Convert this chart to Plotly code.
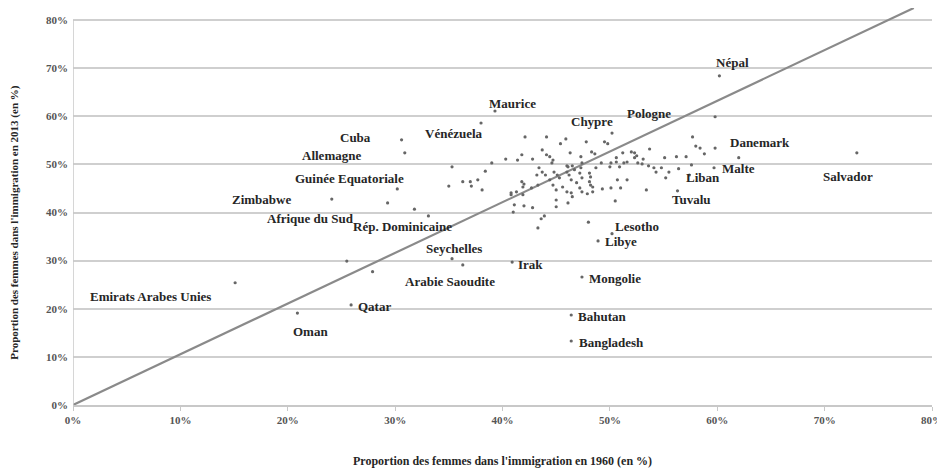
import plotly.graph_objects as go

# ---- Data (proportion of women in immigration, %) ----
# Labelled countries
country_names = ["Népal", "Maurice", "Vénézuela", "Cuba", "Allemagne", "Guinée Equatoriale",
                 "Zimbabwe", "Afrique du Sud", "Rép. Dominicaine", "Seychelles", "Arabie Saoudite",
                 "Irak", "Mongolie", "Bahutan", "Bangladesh", "Lesotho", "Libye", "Tuvalu",
                 "Liban", "Malte", "Danemark", "Salvador", "Pologne", "Chypre",
                 "Emirats Arabes Unies", "Oman", "Qatar"]
country_1960 = [60.2, 39.3, 38.0, 30.6, 30.9, 30.2,
                24.1, 29.3, 33.1, 35.3, 36.3,
                40.9, 47.4, 46.4, 46.4, 50.2, 48.9, 56.3,
                57.4, 59.7, 62.0, 73.0, 50.2, 47.8,
                15.1, 20.9, 25.9]
country_2013 = [68.4, 61.1, 58.6, 55.1, 52.4, 44.9,
                42.8, 42.0, 39.3, 30.4, 29.1,
                29.7, 26.6, 18.7, 13.3, 35.6, 34.1, 44.5,
                47.8, 49.3, 51.4, 52.4, 56.5, 54.7,
                25.4, 19.1, 20.8]

# Unlabelled countries
other_1960 = [42.1, 44.1, 41.8, 41.4, 40.3, 39.0, 35.3, 38.4, 37.7, 37.0, 37.1, 36.3, 35.0, 38.1,
              41.8, 42.0, 41.9, 41.3, 40.8, 59.8, 45.9, 45.4, 49.5, 49.8, 57.7, 58.0, 58.4, 58.8,
              53.7, 52.0, 52.3, 52.5, 52.3, 43.7, 44.1, 44.4, 44.7, 46.3, 48.3, 48.6, 47.3, 51.2,
              50.6, 53.1, 55.1, 56.2, 57.1, 42.8, 44.6, 46.0, 46.1, 46.5, 47.4, 47.3, 49.2, 48.7,
              50.1, 50.0, 50.6, 50.9, 51.3, 51.6, 52.6, 53.0, 53.6, 54.1, 54.3, 54.8, 55.5, 56.4,
              57.6, 43.4, 43.7, 44.0, 43.2, 44.8, 45.1, 45.3, 46.0, 46.2, 46.7, 47.2, 47.4, 48.1,
              48.2, 46.4, 46.9, 47.2, 48.1, 48.2, 48.4, 49.3, 50.1, 50.7, 51.6, 53.4, 55.2, 44.4,
              44.7, 45.0, 45.6, 43.3, 42.7, 46.0, 46.4, 47.4, 47.9, 48.4, 46.5, 45.0, 46.1, 45.0,
              42.8, 50.5, 43.9, 43.6, 43.3, 48.0, 31.8, 40.8, 41.9, 41.1, 42.0, 41.0, 25.5, 27.9,
              59.8, 51.0]
other_2013 = [55.7, 55.7, 52.0, 50.9, 51.1, 50.3, 49.5, 48.6, 46.8, 46.4, 45.5, 46.4, 45.5, 44.7,
              46.4, 45.9, 45.3, 44.3, 44.1, 59.9, 55.3, 54.3, 54.7, 54.3, 55.7, 53.8, 53.4, 52.2,
              53.2, 52.6, 52.4, 51.8, 51.4, 53.0, 52.0, 51.6, 50.9, 52.4, 52.6, 52.2, 51.6, 52.4,
              51.4, 51.1, 51.4, 51.6, 51.6, 51.1, 50.3, 49.7, 49.5, 49.7, 50.3, 49.3, 50.3, 49.3,
              50.3, 49.5, 50.5, 49.5, 50.3, 50.5, 50.3, 50.1, 49.7, 49.3, 48.4, 49.3, 48.4, 49.1,
              49.9, 49.3, 48.4, 47.8, 47.8, 48.4, 47.8, 47.2, 48.4, 47.8, 48.9, 48.2, 47.2, 48.2,
              47.4, 46.8, 46.2, 45.1, 46.4, 45.7, 45.3, 44.9, 45.1, 46.8, 46.8, 44.7, 47.2, 46.8,
              45.7, 44.7, 45.3, 45.7, 45.1, 44.3, 44.1, 44.3, 43.9, 44.3, 43.3, 42.6, 42.0, 41.2,
              41.0, 42.4, 39.3, 38.7, 36.8, 38.0, 40.7, 43.7, 43.7, 41.6, 41.4, 40.1, 29.9, 27.7,
              53.4, 45.1]

# Reference diagonal
diag_1960 = [0, 78.3]
diag_2013 = [0, 82.5]

tick_vals = [0, 10, 20, 30, 40, 50, 60, 70, 80]
tick_text = ["0%", "10%", "20%", "30%", "40%", "50%", "60%", "70%", "80%"]

# Label offsets in pixels (style): (dx right, dy down)
label_dx = [13, 18, -27, -46, -73, -48, -70, -77, -26, 2, -13, 18, 33, 31, 40, 25, 23, 14,
            14, 24, 21, -9, 37, 6, -85, 13, 23]
label_dy = [-13, -7, 10, -2, 3, -10, 0, 16, 11, -10, 17, 2, 1, 1, 1, -7, 1, 9,
            3, 1, -15, 24, -20, -20, 14, 18, 2]

SERIF = "Liberation Serif"
fig = go.Figure()

fig.add_trace(go.Scatter(x=diag_1960, y=diag_2013, mode="lines",
                         line=dict(color="#8a8a8a", width=2.2), hoverinfo="skip", showlegend=False))
fig.add_trace(go.Scatter(x=other_1960, y=other_2013, mode="markers",
                         marker=dict(size=3.2, color="#666666"), showlegend=False))
fig.add_trace(go.Scatter(x=country_1960, y=country_2013, mode="markers",
                         marker=dict(size=3.2, color="#666666"), text=country_names,
                         showlegend=False))

for name, x, y, dx, dy in zip(country_names, country_1960, country_2013, label_dx, label_dy):
    fig.add_annotation(x=x, y=y, text=f"<b>{name}</b>", showarrow=False,
                       xshift=dx, yshift=-dy, xanchor="center", yanchor="middle",
                       font=dict(family=SERIF, size=13, color="#262626"))

# y-axis line only over the gridded range
fig.add_shape(type="line", xref="x", yref="y", x0=0, x1=0, y0=0, y1=80,
              line=dict(color="#c8c8c8", width=1.5))

fig.add_annotation(xref="paper", yref="y", x=-0.068, y=38, xanchor="center", yanchor="middle",
                   text="<b>Proportion des femmes dans l'immigration en 2013 (en %)</b>",
                   textangle=-90, showarrow=False,
                   font=dict(family=SERIF, size=11, color="#262626"))

fig.update_layout(
    width=937, height=462,
    margin=dict(l=65, r=13, t=0, b=65, autoexpand=False),
    paper_bgcolor="white", plot_bgcolor="white",
    font=dict(family=SERIF),
    xaxis=dict(range=[0, 80], tickvals=tick_vals, ticktext=[f"<b>{t}</b>" for t in tick_text],
               showgrid=False, zeroline=False, showline=True, linecolor="#c8c8c8", linewidth=1.5,
               ticks="outside", ticklen=4, tickcolor="#c8c8c8", automargin=False,
               tickfont=dict(family=SERIF, size=11, color="#555555"),
               title=dict(text="<b>Proportion des femmes dans l'immigration en 1960 (en %)</b>",
                          font=dict(family=SERIF, size=12, color="#262626"), standoff=32)),
    yaxis=dict(range=[0, 82.5], tickvals=tick_vals, ticktext=[f"<b>{t}</b>" for t in tick_text],
               showgrid=True, gridcolor="#cfcfcf", gridwidth=1.5, zeroline=False, showline=False,
               ticks="", ticklabelstandoff=4, automargin=False,
               tickfont=dict(family=SERIF, size=11, color="#555555")),
)

fig.write_html("out.html")
